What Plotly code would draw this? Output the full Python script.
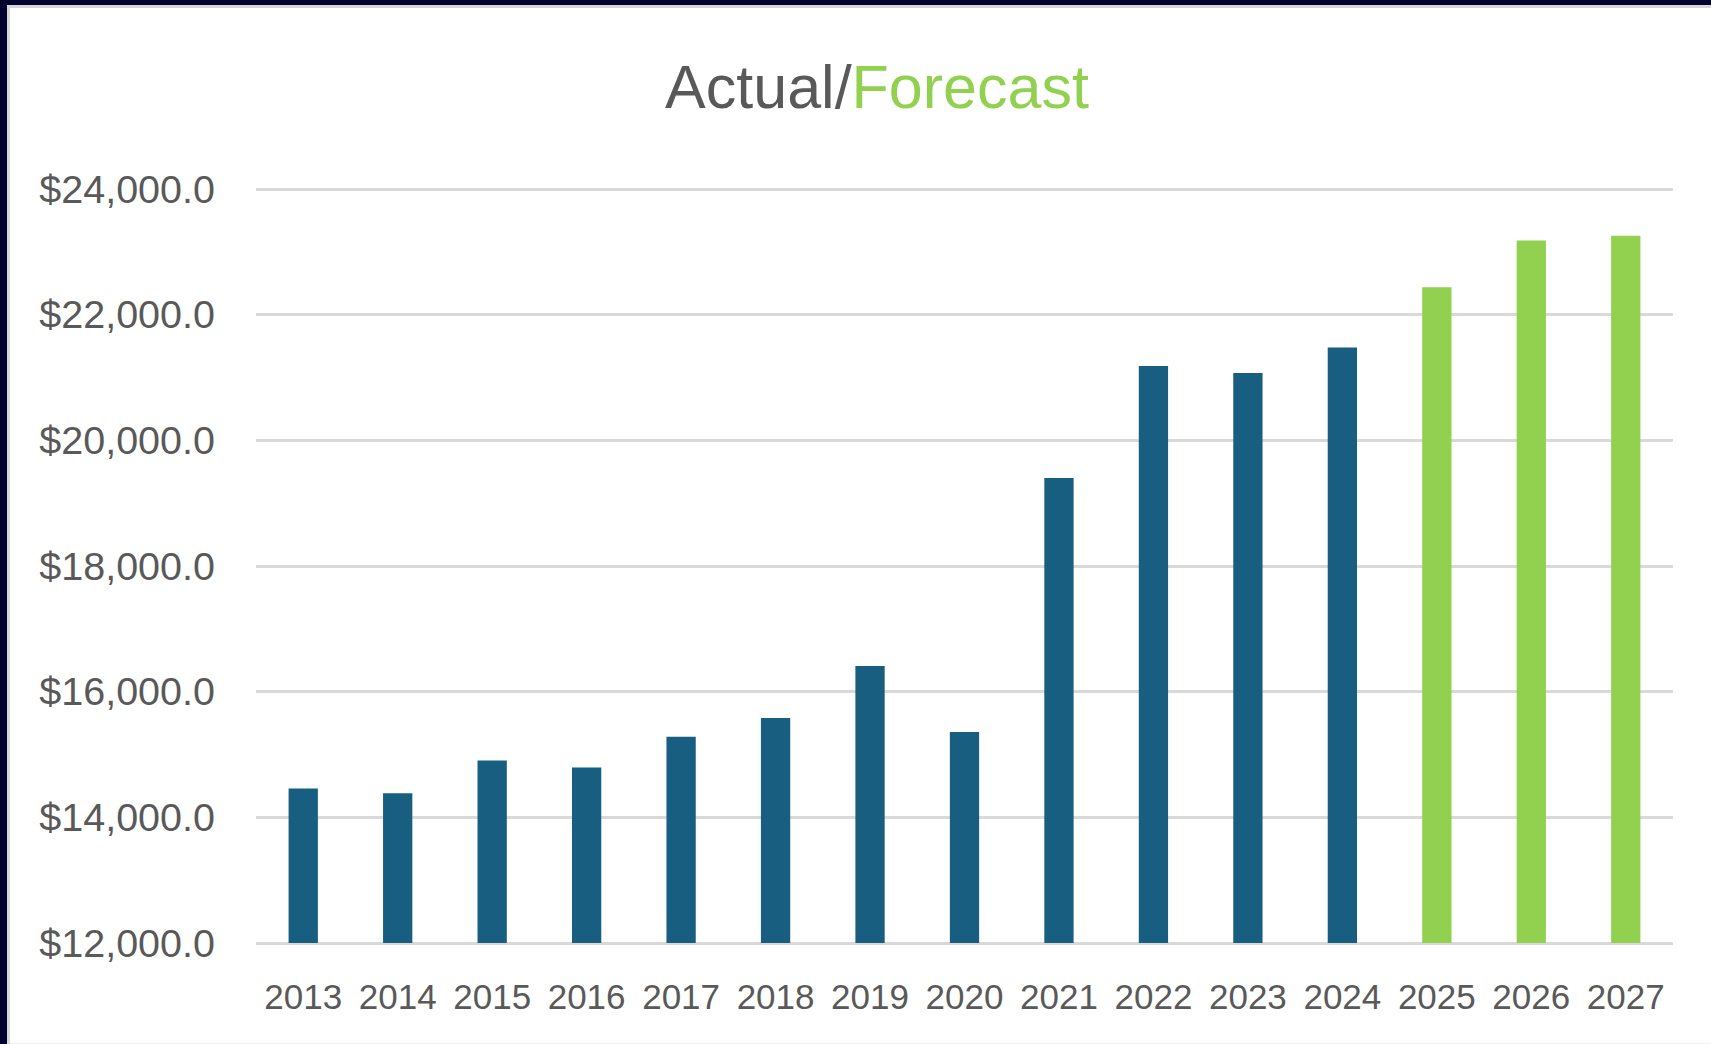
import plotly.graph_objects as go

# ---- data ----
actual_years = ["2013", "2014", "2015", "2016", "2017", "2018", "2019", "2020",
                "2021", "2022", "2023", "2024"]
actual_values = [14460, 14385, 14906, 14794, 15283, 15580, 16409, 15357,
                 19399, 21182, 21071, 21478]
forecast_years = ["2025", "2026", "2027"]
forecast_values = [22438, 23182, 23256]
y_ticks = [12000, 14000, 16000, 18000, 20000, 22000, 24000]

# ---- layout constants (pixels) ----
W, H = 1711, 1044
EXTRA = 3  # px of plot area beyond the first/last gridline so they are drawn
L, R, T, B = 256, 38, 189 - EXTRA, 101 - EXTRA
PW, PH = W - L - R, H - T - B
PAD_UNITS = EXTRA * (y_ticks[-1] - y_ticks[0]) / 754.0
BASE = y_ticks[0]

BLUE = "#175E81"
GREEN = "#92D050"
GREY_TXT = "#595959"
GRID = "#D9D9D9"
NAVY = "#03022E"


def px(x):
    return (x - L) / PW


def py(y):
    return (H - B - y) / PH


fig = go.Figure()
fig.add_trace(go.Bar(x=actual_years, y=[v - BASE for v in actual_values], base=BASE,
                     marker_color=BLUE, marker_line_width=0, width=0.31, name="Actual"))
fig.add_trace(go.Bar(x=forecast_years, y=[v - BASE for v in forecast_values], base=BASE,
                     marker_color=GREEN, marker_line_width=0, width=0.31, name="Forecast"))

fig.update_layout(
    width=W, height=H,
    margin=dict(l=L, r=R, t=T, b=B, pad=0),
    paper_bgcolor="white", plot_bgcolor="white",
    showlegend=False, barmode="overlay",
    font=dict(family="Liberation Sans, Arial, sans-serif", color=GREY_TXT),
    title=dict(
        text=f"<span style='color:{GREY_TXT}'>Actual/</span><span style='color:{GREEN}'>Forecast</span>",
        x=877 / W, xref="container", xanchor="center",
        y=1 - 87 / H, yref="container", yanchor="middle",
        font=dict(size=61, family="Liberation Sans, Arial, sans-serif"),
    ),
    xaxis=dict(
        categoryorder="array", categoryarray=actual_years + forecast_years,
        showgrid=False, showline=False, zeroline=False,
        ticks="", tickfont=dict(size=35, color=GREY_TXT),
        ticklabelstandoff=30 - EXTRA,
    ),
    yaxis=dict(
        range=[y_ticks[0] - PAD_UNITS, y_ticks[-1] + PAD_UNITS], tickvals=y_ticks,
        ticktext=[f"${v:,.1f}" for v in y_ticks],
        showgrid=True, gridcolor=GRID, gridwidth=3,
        zeroline=False, showline=False, ticks="",
        tickfont=dict(size=39.5, color=GREY_TXT),
        ticklabelstandoff=40,
    ),
)

shapes = [
    # dark frame top and left
    dict(type="rect", xref="paper", yref="paper", x0=px(0), x1=px(W), y0=py(0), y1=py(5),
         fillcolor=NAVY, line_width=0, layer="above"),
    dict(type="rect", xref="paper", yref="paper", x0=px(0), x1=px(7), y0=py(0), y1=py(H),
         fillcolor=NAVY, line_width=0, layer="above"),
    # thin light grey inner edges
    dict(type="rect", xref="paper", yref="paper", x0=px(7), x1=px(W), y0=py(5), y1=py(8),
         fillcolor="#D6D6D6", line_width=0, layer="above"),
    dict(type="rect", xref="paper", yref="paper", x0=px(7), x1=px(10), y0=py(5), y1=py(H),
         fillcolor="#D6D6D6", line_width=0, layer="above"),
    dict(type="rect", xref="paper", yref="paper", x0=px(10), x1=px(W), y0=py(H - 1), y1=py(H),
         fillcolor="#EEEEEE", line_width=0, layer="above"),
]
fig.update_layout(shapes=shapes)

fig.write_html(
    "out.html",
    config={"displayModeBar": False},
    post_script="document.body.style.margin='0';document.body.style.overflow='hidden';",
)
